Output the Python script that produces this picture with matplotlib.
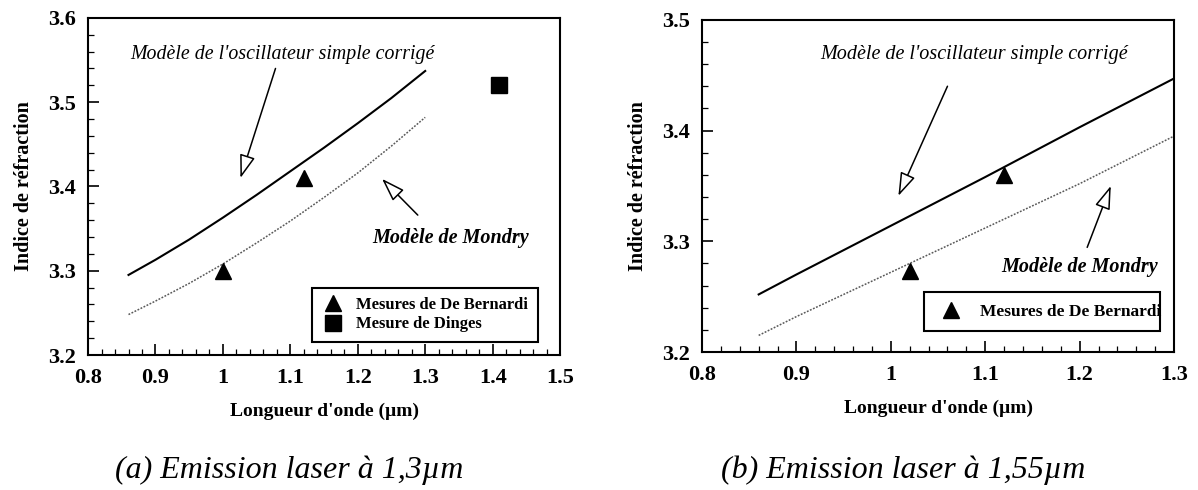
import numpy as np
import matplotlib
matplotlib.use("Agg")
import matplotlib.pyplot as plt
from matplotlib.lines import Line2D
from matplotlib.ticker import MultipleLocator

plt.rcParams['font.family'] = ['Liberation Serif', 'DejaVu Serif']

# (a) emission laser a 1,3 um
wl_a = [0.86, 0.9, 0.95, 1.0, 1.05, 1.1, 1.15, 1.2, 1.25, 1.3]
osc_a = [3.295, 3.313, 3.337, 3.363, 3.390, 3.418, 3.446, 3.475, 3.505, 3.537]
mondry_a = [3.248, 3.264, 3.285, 3.308, 3.333, 3.359, 3.387, 3.416, 3.448, 3.482]
bernardi_x_a = [1.0, 1.12]
bernardi_y_a = [3.30, 3.41]
dinges_x = [1.41]
dinges_y = [3.52]

# (b) emission laser a 1,55 um
wl_b = [0.86, 0.9, 1.0, 1.1, 1.2, 1.3]
osc_b = [3.252, 3.270, 3.314, 3.358, 3.403, 3.447]
mondry_b = [3.215, 3.232, 3.272, 3.312, 3.352, 3.395]
bernardi_x_b = [1.02, 1.12]
bernardi_y_b = [3.273, 3.36]

xticks_a = [0.8, 0.9, 1.0, 1.1, 1.2, 1.3, 1.4, 1.5]
xticklabels_a = ['0.8', '0.9', '1', '1.1', '1.2', '1.3', '1.4', '1.5']
xticks_b = [0.8, 0.9, 1.0, 1.1, 1.2, 1.3]
xticklabels_b = ['0.8', '0.9', '1', '1.1', '1.2', '1.3']

osc_text = "Modèle de l'oscillateur simple corrigé"
mondry_text = "Modèle de Mondry"


def style_axes(ax, xlim, ylim, xticks, xticklabels, yticks):
    ax.set_xlim(*xlim)
    ax.set_ylim(*ylim)
    ax.set_xticks(xticks)
    ax.set_xticklabels(xticklabels)
    ax.set_yticks(yticks)
    ax.set_yticklabels(['%.1f' % v for v in yticks])
    ax.xaxis.set_minor_locator(MultipleLocator(0.02))
    ax.yaxis.set_minor_locator(MultipleLocator(0.02))
    ax.tick_params(which='major', direction='in', length=8, width=1.2,
                   labelsize=16, pad=9, top=False, right=False)
    ax.tick_params(which='minor', direction='in', length=4, width=0.9,
                   top=False, right=False)
    for lab in ax.get_xticklabels() + ax.get_yticklabels():
        lab.set_fontweight('bold')
    for sp in ax.spines.values():
        sp.set_linewidth(1.5)
    ax.set_xlabel("Longueur d'onde (µm)", fontsize=14, fontweight='bold', labelpad=11)
    ax.set_ylabel("Indice de réfraction", fontsize=14.5, fontweight='bold', labelpad=10)


def hollow_arrow(ax, tail, head):
    ax.annotate('', xy=head, xytext=tail,
                arrowprops=dict(arrowstyle='-|>,head_length=0.9,head_width=0.3',
                                fc='white', ec='black', lw=1.1, mutation_scale=16,
                                shrinkA=0, shrinkB=0))


fig = plt.figure(figsize=(11.98, 4.9), dpi=100)
ax1 = fig.add_axes([0.0735, 0.2755, 0.394, 0.688])
ax2 = fig.add_axes([0.586, 0.2816, 0.394, 0.678])

# panel (a)
ax1.plot(wl_a, osc_a, color='black', lw=1.5)
ax1.plot(wl_a, mondry_a, color='0.35', lw=1.1, linestyle=(0, (1.2, 1.0)))
ax1.plot(bernardi_x_a, bernardi_y_a, '^', color='black', markersize=12, zorder=5)
ax1.plot(dinges_x, dinges_y, 's', color='black', markersize=11, zorder=5)
style_axes(ax1, (0.8, 1.5), (3.2, 3.6), xticks_a, xticklabels_a,
           [3.2, 3.3, 3.4, 3.5, 3.6])
ax1.text(1.088, 3.556, osc_text, fontsize=14.3, style='italic', ha='center', va='center')
hollow_arrow(ax1, (1.078, 3.540), (1.026, 3.410))
ax1.text(1.337, 3.339, mondry_text, fontsize=14.5, style='italic', fontweight='bold',
         ha='center', va='center')
hollow_arrow(ax1, (1.289, 3.366), (1.236, 3.409))

handles_a = [Line2D([], [], marker='^', color='black', ls='none', markersize=12),
             Line2D([], [], marker='s', color='black', ls='none', markersize=11)]
leg1 = ax1.legend(handles_a, ['Mesures de De Bernardi', 'Mesure de Dinges'],
                  loc='lower left', bbox_to_anchor=(0.474, 0.04, 0.479, 0.16),
                  mode='expand', borderaxespad=0, fancybox=False, framealpha=1,
                  edgecolor='black', prop={'weight': 'bold', 'size': 12},
                  handletextpad=0.6, labelspacing=0.2, borderpad=0.55,
                  handlelength=1.5)
leg1.get_frame().set_linewidth(1.5)

# panel (b)
ax2.plot(wl_b, osc_b, color='black', lw=1.5)
ax2.plot(wl_b, mondry_b, color='0.35', lw=1.1, linestyle=(0, (1.2, 1.0)))
ax2.plot(bernardi_x_b, bernardi_y_b, '^', color='black', markersize=12, zorder=5)
style_axes(ax2, (0.8, 1.3), (3.2, 3.5), xticks_b, xticklabels_b,
           [3.2, 3.3, 3.4, 3.5])
ax2.text(1.088, 3.469, osc_text, fontsize=14.5, style='italic', ha='center', va='center')
hollow_arrow(ax2, (1.060, 3.440), (1.008, 3.341))
ax2.text(1.200, 3.2765, mondry_text, fontsize=14.5, style='italic', fontweight='bold',
         ha='center', va='center')
hollow_arrow(ax2, (1.208, 3.2945), (1.233, 3.350))

handles_b = [Line2D([], [], marker='^', color='black', ls='none', markersize=12)]
leg2 = ax2.legend(handles_b, ['Mesures de De Bernardi'],
                  loc='lower left', bbox_to_anchor=(0.47, 0.063, 0.50, 0.11),
                  mode='expand', borderaxespad=0, fancybox=False, framealpha=1,
                  edgecolor='black', prop={'weight': 'bold', 'size': 12.5},
                  handletextpad=0.8, borderpad=0.65, handlelength=1.8)
leg2.get_frame().set_linewidth(1.5)

# captions
fig.text(289 / 1198, 1 - 470 / 490, "(a) Emission laser à 1,3µm", fontsize=23,
         style='italic', ha='center', va='center')
fig.text(903 / 1198, 1 - 470 / 490, "(b) Emission laser à 1,55µm", fontsize=23,
         style='italic', ha='center', va='center')

fig.savefig('out.png', dpi=100)
